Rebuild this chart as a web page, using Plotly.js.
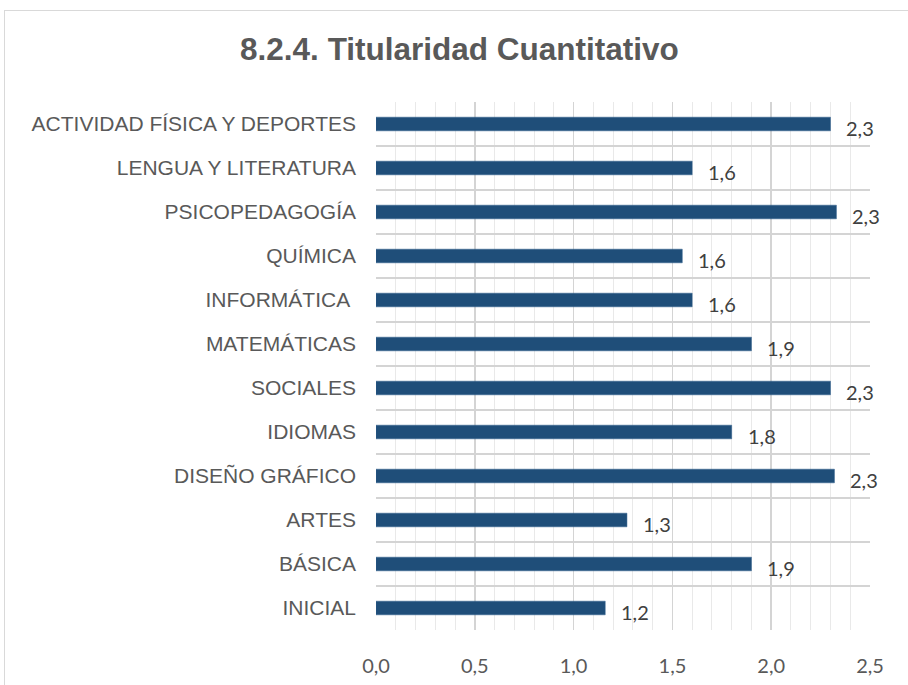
<!DOCTYPE html>
<html>
<head>
<meta charset="utf-8">
<script src="https://cdn.plot.ly/plotly-3.0.1.min.js"></script>
<style>
html,body{margin:0;padding:0;background:#fff;overflow:hidden;}
#wrap{position:relative;width:908px;height:685px;}
#frame{position:absolute;left:4px;top:10px;width:920px;height:700px;border:1.5px solid #d9d9d9;box-sizing:border-box;pointer-events:none;}
#chart{position:absolute;left:0;top:0;width:908px;height:685px;}
</style>
</head>
<body>
<div id="wrap"><div id="chart"></div><div id="frame"></div></div>
<script>
const categories = [
  "ACTIVIDAD FÍSICA Y DEPORTES",
  "LENGUA Y LITERATURA",
  "PSICOPEDAGOGÍA",
  "QUÍMICA",
  "INFORMÁTICA\u00a0",
  "MATEMÁTICAS",
  "SOCIALES",
  "IDIOMAS",
  "DISEÑO GRÁFICO",
  "ARTES",
  "BÁSICA",
  "INICIAL"
];
const values = [2.30, 1.60, 2.33, 1.55, 1.60, 1.90, 2.30, 1.80, 2.32, 1.27, 1.90, 1.16];
const xTickVals = [0, 0.5, 1, 1.5, 2, 2.5];
const xTickText = ["0,0", "0,5", "1,0", "1,5", "2,0", "2,5"];
const titleText = "8.2.4. Titularidad Cuantitativo";

function fmt(v){ return v.toFixed(1).replace('.', ','); }

const font = "Liberation Sans, Arial, sans-serif";
const numFont = "Lato, Open Sans, sans-serif";

const trace = {
  type: 'bar',
  orientation: 'h',
  x: values,
  y: categories,
  marker: {color: '#1F4E79', line: {color: '#2E5E8C', width: 0.5}},
  width: 0.31,
  hoverinfo: 'none'
};

const annotations = values.map((v, i) => ({
  x: v, y: categories[i], xref: 'x', yref: 'y',
  text: fmt(v), showarrow: false,
  xanchor: 'left', yanchor: 'middle',
  xshift: 14, yshift: -4,
  font: {family: numFont, size: 20, color: '#404040'}
}));

const layout = {
  width: 908, height: 685,
  paper_bgcolor: '#fff', plot_bgcolor: '#fff',
  margin: {l: 376, r: 38, t: 102, b: 55, pad: 0},
  showlegend: false,
  title: {
    text: '<b>' + titleText + '</b>',
    x: 0.506, xanchor: 'center', y: 0.928, yanchor: 'middle',
    font: {family: font, size: 31.5, color: '#595959'}
  },
  xaxis: {
    range: [0, 2.5],
    tickvals: xTickVals, ticktext: xTickText,
    showgrid: true, gridcolor: '#d4d4d4', gridwidth: 1.5,
    minor: {dtick: 0.1, tick0: 0, showgrid: true, gridcolor: '#e9e9e9', gridwidth: 1},
    zeroline: false, showline: false,
    ticks: '', ticklabelstandoff: 22,
    tickfont: {family: numFont, size: 20, color: '#595959'},
    fixedrange: true
  },
  yaxis: {
    type: 'category',
    autorange: 'reversed',
    tickson: 'boundaries',
    showgrid: true, gridcolor: '#d4d4d4', gridwidth: 1.5,
    zeroline: false, showline: false,
    ticks: '', ticklabelstandoff: 19,
    tickfont: {family: font, size: 21, color: '#595959'},
    fixedrange: true
  },
  yaxis2: {
    overlaying: 'y', side: 'left',
    range: [11.5, -0.5], tick0: 0, dtick: 1,
    showgrid: true, gridcolor: '#e9e9e9', gridwidth: 1,
    showticklabels: false, ticks: '', zeroline: false, showline: false,
    fixedrange: true
  },
  annotations: annotations
};

Plotly.newPlot('chart', [trace], layout, {displayModeBar: false, staticPlot: true});
</script>
</body>
</html>
